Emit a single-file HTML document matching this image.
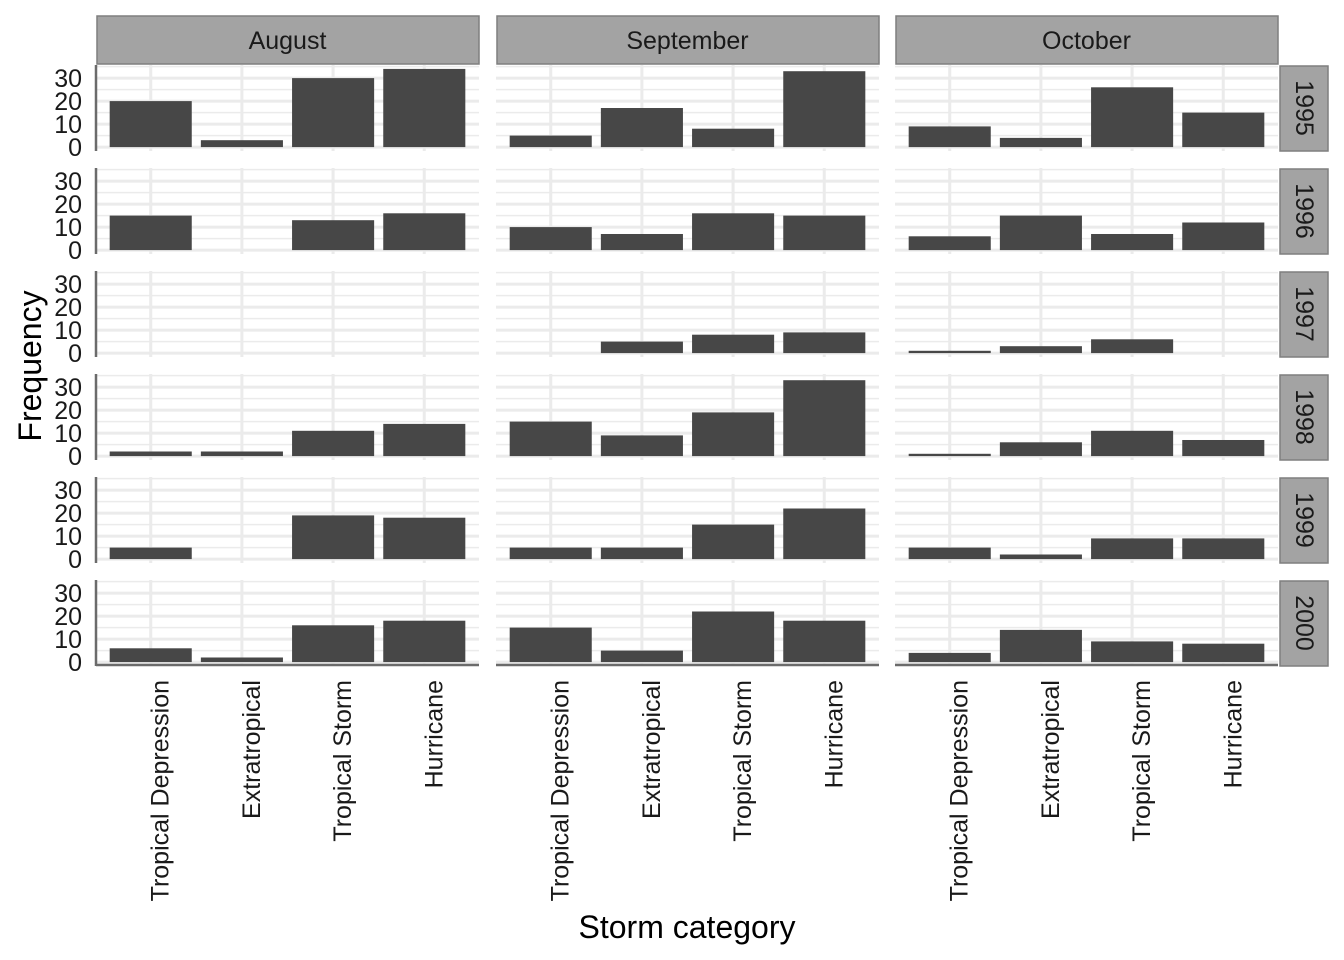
<!DOCTYPE html>
<html><head><meta charset="utf-8"><style>
body{margin:0;background:#fff;}
svg{display:block;font-family:"Liberation Sans",Arial,sans-serif;}
</style></head><body>
<svg id="chart" width="1344" height="960"></svg>
<script>
const months = ["August","September","October"];
const years = ["1995","1996","1997","1998","1999","2000"];
const categories = ["Tropical Depression","Extratropical","Tropical Storm","Hurricane"];
const yTicks = [0,10,20,30];
// values[year][month][category]
const v1995 = [[20,3,30,34],[5,17,8,33],[9,4,26,15]];
const v1996 = [[15,0,13,16],[10,7,16,15],[6,15,7,12]];
const v1997 = [[0,0,0,0],[0,5,8,9],[1,3,6,0]];
const v1998 = [[2,2,11,14],[15,9,19,33],[1,6,11,7]];
const v1999 = [[5,0,19,18],[5,5,15,22],[5,2,9,9]];
const v2000 = [[6,2,16,18],[15,5,22,18],[4,14,9,8]];
const values = [v1995,v1996,v1997,v1998,v1999,v2000];

const NS="http://www.w3.org/2000/svg";
const svg=document.getElementById('chart');
function mk(t,a,p){const e=document.createElementNS(NS,t);for(const k in a)e.setAttribute(k,a[k]);(p||svg).appendChild(e);return e;}
const colX=[96,496,895], panelW=383, rowY=[65,168,271,374,477,580], panelH=86;
const yMax=35.7, yMin=-1.7;
function yScale(val,r){return rowY[r]+ (yMax-val)/(yMax-yMin)*panelH;}
function xScale(i,c){return colX[c]+ (i+0.6)*panelW/4.2;}
const bw=0.9*panelW/4.2;

months.forEach((m,c)=>{
  const g=mk('g',{});
  
  
  mk('rect',{x:colX[c]+1,y:16,width:panelW-1,height:48,fill:'#a3a3a3',stroke:'#7f7f7f','stroke-width':1.5},g);
  const t=mk('text',{x:colX[c]+panelW/2,y:49,'text-anchor':'middle','font-size':25,fill:'#1a1a1a'},g);t.textContent=m;
});
years.forEach((yr,r)=>{
  const g=mk('g',{});
  
  
  mk('rect',{x:1280,y:rowY[r]+1,width:48,height:panelH-1,fill:'#a3a3a3',stroke:'#7f7f7f','stroke-width':1.5},g);
  const cx=1304, cy=rowY[r]+panelH/2;
  const t=mk('text',{x:cx,y:cy,'text-anchor':'middle','dominant-baseline':'central','font-size':25,fill:'#1a1a1a',transform:`rotate(90 ${cx} ${cy})`},g);t.textContent=yr;
});

years.forEach((yr,r)=>{
  months.forEach((m,c)=>{
    const g=mk('g',{});
    
    
    [5,15,25,35].forEach(t=>{const y=yScale(t,r);mk('line',{x1:colX[c],x2:colX[c]+panelW,y1:y,y2:y,stroke:'#ebebeb','stroke-width':1.5},g);});
    yTicks.forEach(t=>{const y=yScale(t,r);mk('line',{x1:colX[c],x2:colX[c]+panelW,y1:y,y2:y,stroke:'#ebebeb','stroke-width':3},g);});
    categories.forEach((cat,i)=>{const x=xScale(i,c);mk('line',{x1:x,x2:x,y1:rowY[r],y2:rowY[r]+panelH,stroke:'#ebebeb','stroke-width':3},g);});
    categories.forEach((cat,i)=>{
      const val=values[r][c][i];
      if(val<=0) return;
      const y0=yScale(0,r), y1=yScale(val,r);
      const b=mk('rect',{x:xScale(i,c)-bw/2,y:y1,width:bw,height:y0-y1,fill:'#474747'},g);
      
      
    });
    if(c===0){
      mk('line',{x1:colX[c],x2:colX[c],y1:rowY[r],y2:rowY[r]+panelH,stroke:'#6b6b6b','stroke-width':2.5},g);
      yTicks.forEach(t=>{const tx=mk('text',{x:82,y:yScale(t,r)+9,'text-anchor':'end','font-size':25,fill:'#1a1a1a'},g);tx.textContent=t;});
    }
    if(r===years.length-1){
      mk('line',{x1:colX[c],x2:colX[c]+panelW,y1:rowY[r]+panelH-1,y2:rowY[r]+panelH-1,stroke:'#6b6b6b','stroke-width':2.5},g);
    }
  });
});
months.forEach((m,c)=>{
  categories.forEach((cat,i)=>{
    const x=xScale(i,c)+18, y=680;
    const t=mk('text',{x:x,y:y,'text-anchor':'end','font-size':25,fill:'#1a1a1a',transform:`rotate(-90 ${x} ${y})`});
    
    
    t.textContent=cat;
  });
});
const xt=mk('text',{x:687,y:938,'text-anchor':'middle','font-size':32,fill:'#000'});


xt.textContent='Storm category';
const yt=mk('text',{x:41,y:366,'text-anchor':'middle','font-size':32,fill:'#000',transform:'rotate(-90 41 366)'});


yt.textContent='Frequency';
</script>
</body></html>
